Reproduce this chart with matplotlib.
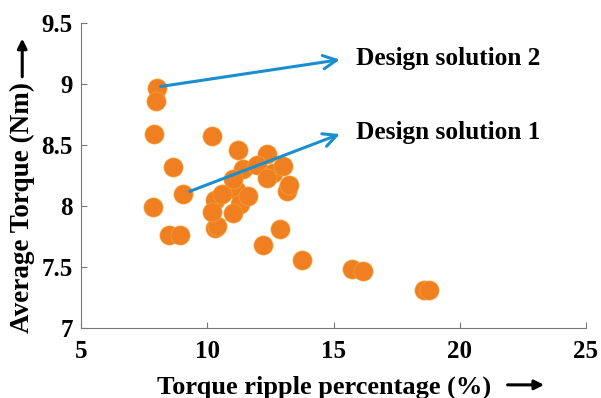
import matplotlib.pyplot as plt
from matplotlib.patches import FancyArrowPatch

# datos
ripple = [8.0, 7.95, 7.9, 10.2, 11.2, 12.35, 8.65, 9.05, 7.85, 8.5, 8.9,
          10.3, 10.37, 12.2, 12.87, 13.75, 15.75, 16.15, 18.6, 18.8,
          11.4, 11.95, 12.6, 13.0, 12.35, 13.15, 13.25, 11.15, 11.3, 10.3,
          11.0, 10.2, 10.6, 11.6, 11.0]
torque = [8.97, 8.86, 8.59, 8.57, 8.46, 8.43, 8.32, 8.10, 7.99, 7.76, 7.76,
          7.82, 7.84, 7.68, 7.81, 7.56, 7.48, 7.47, 7.31, 7.31,
          8.30, 8.34, 8.27, 8.33, 8.23, 8.12, 8.17, 8.13, 8.02, 8.05,
          7.94, 7.95, 8.10, 8.08, 8.22]

# flechas de anotacion: (inicio, fin, texto)
sol2_from, sol2_to, sol2_txt = (8.15, 8.98), (15.25, 9.2), "Design solution 2"
sol1_from, sol1_to, sol1_txt = (9.3, 8.12), (15.25, 8.59), "Design solution 1"

xticks = [5, 10, 15, 20, 25]
yticks = [7, 7.5, 8, 8.5, 9, 9.5]
yticklabels = ["7", "7.5", "8", "8.5", "9", "9.5"]

plt.rcParams['font.family'] = ['Liberation Serif', 'DejaVu Serif']
plt.rcParams['font.weight'] = 'bold'

fig = plt.figure(figsize=(6.01, 3.98), dpi=100)
ax = fig.add_axes([0.135, 0.176, 0.84, 0.766])

ax.scatter(ripple, torque, s=190, color="#f07f22", edgecolors="#f3a33a",
           linewidths=0.5, zorder=2)

for a, b, t in [(sol2_from, sol2_to, sol2_txt), (sol1_from, sol1_to, sol1_txt)]:
    ax.annotate("", xy=b, xytext=a,
                arrowprops=dict(arrowstyle="->", color="#1a8fd0", lw=2.2,
                                mutation_scale=24, shrinkA=0, shrinkB=0),
                zorder=3)
    ax.text(b[0] + 0.65, b[1] + 0.01, t, fontsize=18.2, fontweight="bold",
            va="center", ha="left")

ax.set_xlim(5, 25)
ax.set_ylim(7, 9.5)
ax.set_xticks(xticks)
ax.set_yticks(yticks)
ax.set_yticklabels(yticklabels)
ax.tick_params(direction="in", length=4, color="#777777", labelsize=18)
ax.tick_params(axis="x", pad=9)
ax.tick_params(axis="y", pad=6)
for lab in ax.get_xticklabels() + ax.get_yticklabels():
    lab.set_fontweight("bold")
ax.spines['top'].set_visible(False)
ax.spines['right'].set_visible(False)
ax.spines['left'].set_color("#777777")
ax.spines['bottom'].set_color("#777777")

# etiquetas con flecha
fig.text(0.539, 0.028, "Torque ripple percentage (%)", fontsize=19,
         fontweight="bold", ha="center", va="center")
fig.patches.append(FancyArrowPatch(
    (0.84, 0.033), (0.91, 0.033), transform=fig.transFigure,
    arrowstyle="-|>", mutation_scale=14, lw=2.2, color="black"))
fig.text(0.037, 0.478, "Average Torque (Nm)", fontsize=19.5, fontweight="bold",
         rotation=90, ha="center", va="center")
fig.patches.append(FancyArrowPatch(
    (0.037, 0.80), (0.037, 0.91), transform=fig.transFigure,
    arrowstyle="-|>", mutation_scale=14, lw=2.2, color="black"))

fig.savefig("out.png", dpi=100)
